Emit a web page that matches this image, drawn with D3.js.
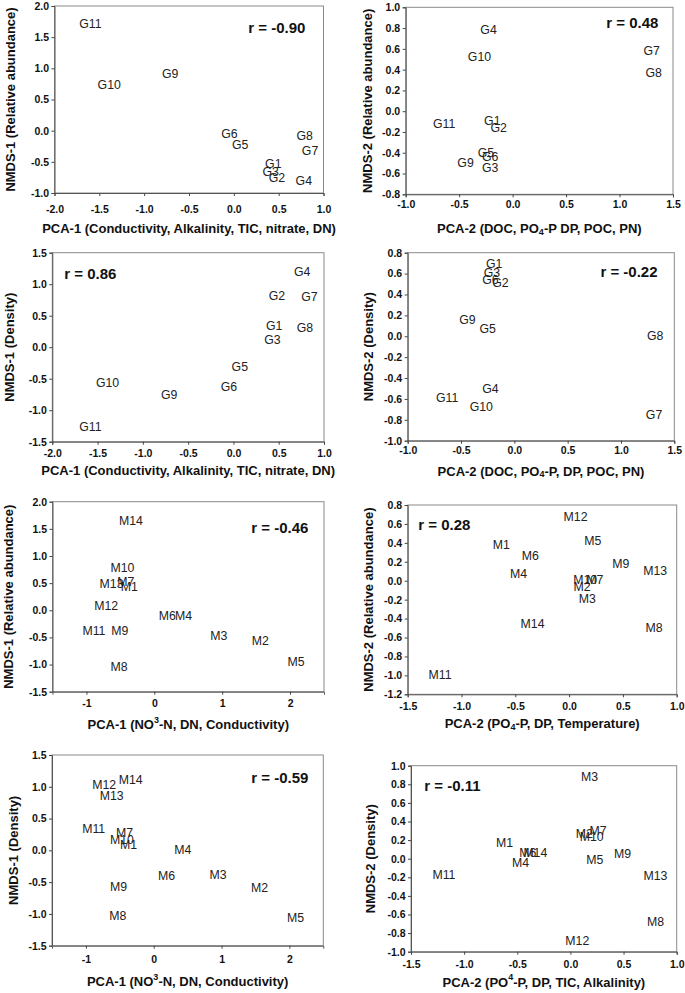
<!DOCTYPE html>
<html><head><meta charset="utf-8">
<script src="https://cdn.jsdelivr.net/npm/d3@7/dist/d3.min.js"></script>
<style>
body{margin:0;background:#fff;}
svg{display:block;font-family:"Liberation Sans",Arial,Helvetica,sans-serif;}
</style>
</head><body>
<svg id="chart" width="685" height="993"></svg>
<script>
// ---------- DATA ----------
const gLabels = ["G1","G2","G3","G4","G5","G6","G7","G8","G9","G10","G11"];
const mLabels = ["M1","M2","M3","M4","M5","M6","M7","M8","M9","M10","M11","M12","M13","M14"];

// Panel A: PCA-1 vs NMDS-1 (Relative abundance), G sites
const aX = [0.44, 0.48, 0.41, 0.78, 0.07, -0.05, 0.85, 0.79, -0.71, -1.39, -1.60];
const aY = [-0.53, -0.76, -0.67, -0.81, -0.23, -0.06, -0.33, -0.08, 0.91, 0.74, 1.71];
// Panel B: PCA-2 vs NMDS-2 (Relative abundance), G sites
const bX = [-0.19, -0.13, -0.21, -0.225, -0.25, -0.21, 1.30, 1.32, -0.44, -0.31, -0.64];
const bY = [-0.09, -0.16, -0.55, 0.78, -0.405, -0.44, 0.58, 0.365, -0.50, 0.52, -0.12];
// Panel C: PCA-1 vs NMDS-1 (Density), G sites
const cX = [0.45, 0.48, 0.43, 0.76, 0.07, -0.05, 0.84, 0.79, -0.71, -1.39, -1.58];
const cY = [0.34, 0.81, 0.11, 1.20, -0.31, -0.63, 0.79, 0.30, -0.76, -0.57, -1.26];
// Panel D: PCA-2 vs NMDS-2 (Density), G sites
const dX = [-0.19, -0.13, -0.21, -0.225, -0.25, -0.225, 1.31, 1.32, -0.44, -0.31, -0.63];
const dY = [0.69, 0.51, 0.61, -0.505, 0.07, 0.54, -0.75, 0.0, 0.155, -0.68, -0.595];
// Panel E: PCA-1 vs NMDS-1 (Relative abundance), M sites
const eX = [-0.37, 1.56, 0.95, 0.43, 2.09, 0.19, -0.42, -0.52, -0.51, -0.47, -0.89, -0.71, -0.63, -0.345];
const eY = [0.43, -0.56, -0.47, -0.10, -0.96, -0.10, 0.53, -1.05, -0.38, 0.785, -0.39, 0.07, 0.48, 1.65];
// Panel F: PCA-2 vs NMDS-2 (Relative abundance), M sites
const fX = [-0.63, 0.12, 0.17, -0.47, 0.22, -0.36, 0.24, 0.79, 0.48, 0.15, -1.20, 0.06, 0.80, -0.34];
const fY = [0.38, -0.07, -0.19, 0.07, 0.42, 0.265, 0.01, -0.50, 0.18, 0.01, -1.00, 0.67, 0.10, -0.46];
// Panel G: PCA-1 vs NMDS-1 (Density), M sites
const gX = [-0.37, 1.56, 0.95, 0.43, 2.09, 0.19, -0.43, -0.53, -0.52, -0.47, -0.885, -0.73, -0.62, -0.34];
const gY = [0.08, -0.60, -0.39, 0.0, -1.06, -0.40, 0.28, -1.03, -0.57, 0.17, 0.34, 1.03, 0.86, 1.10];
// Panel H: PCA-2 vs NMDS-2 (Density), M sites
const hX = [-0.62, 0.13, 0.18, -0.47, 0.23, -0.40, 0.26, 0.80, 0.49, 0.20, -1.19, 0.065, 0.80, -0.33];
const hY = [0.17, 0.27, 0.88, -0.05, -0.01, 0.06, 0.30, -0.68, 0.05, 0.23, -0.18, -0.88, -0.19, 0.06];

const rLabels = ["r = -0.90","r = 0.48","r = 0.86","r = -0.22","r = -0.46","r = 0.28","r = -0.59","r = -0.11"];

// tick values
const ticksPCA1 = [-2.0,-1.5,-1.0,-0.5,0.0,0.5,1.0];
const ticksPCA2 = [-1.0,-0.5,0.0,0.5,1.0,1.5];
const ticksPCA2m = [-1.5,-1.0,-0.5,0.0,0.5,1.0];
const ticksPCA1m = [-1,0,1,2];
const ticksA_y = [-1.0,-0.5,0.0,0.5,1.0,1.5,2.0];
const ticksB_y = [-0.8,-0.6,-0.4,-0.2,0.0,0.2,0.4,0.6,0.8,1.0];
const ticksC_y = [-1.5,-1.0,-0.5,0.0,0.5,1.0,1.5];
const ticksD_y = [-1.0,-0.8,-0.6,-0.4,-0.2,0.0,0.2,0.4,0.6,0.8];
const ticksE_y = [-1.5,-1.0,-0.5,0.0,0.5,1.0,1.5,2.0];
const ticksF_y = [-1.2,-1.0,-0.8,-0.6,-0.4,-0.2,0.0,0.2,0.4,0.6,0.8];
const ticksG_y = [-1.5,-1.0,-0.5,0.0,0.5,1.0,1.5];
const ticksH_y = [-1.0,-0.8,-0.6,-0.4,-0.2,0.0,0.2,0.4,0.6,0.8,1.0];

// axis titles (segments: [text, mode])
const xTitles = [
  [["PCA-1 (Conductivity, Alkalinity, TIC, nitrate, DN)",""]],
  [["PCA-2 (DOC, PO",""],["4","sub"],["-P DP, POC, PN)",""]],
  [["PCA-1 (Conductivity, Alkalinity, TIC, nitrate, DN)",""]],
  [["PCA-2 (DOC, PO",""],["4","sub"],["-P, DP, POC, PN)",""]],
  [["PCA-1 (NO",""],["3","sup"],["-N, DN, Conductivity)",""]],
  [["PCA-2 (PO",""],["4","sub"],["-P, DP, Temperature)",""]],
  [["PCA-1 (NO",""],["3","sup"],["-N, DN, Conductivity)",""]],
  [["PCA-2 (PO",""],["4","sup"],["-P, DP, TIC, Alkalinity)",""]]
];
const yTitles = ["NMDS-1 (Relative abundance)","NMDS-2 (Relative abundance)","NMDS-1 (Density)","NMDS-2 (Density)",
                 "NMDS-1 (Relative abundance)","NMDS-2 (Relative abundance)","NMDS-1 (Density)","NMDS-2 (Density)"];

// ---------- LAYOUT ----------
const f1 = d => d.toFixed(1);
const f0 = d => String(d);
const panels = [
  {lab:gLabels, xs:aX, ys:aY, box:[54.5,323.5,6,193],   xd:[-2,1],    yd:[-1,2],    xt:ticksPCA1, yt:ticksA_y, xf:f1, xOff:16, xTY:228, yTX:10,  rPos:[0.48,1.66]},
  {lab:gLabels, xs:bX, ys:bY, box:[405.7,673,7.3,194.3],xd:[-1,1.5],  yd:[-0.8,1],  xt:ticksPCA2, yt:ticksB_y, xf:f1, xOff:10, xTY:228, yTX:367, rPos:[1.12,0.85]},
  {lab:gLabels, xs:cX, ys:cY, box:[52.3,324,252.7,441.7],xd:[-2,1],   yd:[-1.5,1.5],xt:ticksPCA1, yt:ticksC_y, xf:f1, xOff:11.6, xTY:470, yTX:9, rPos:[-1.58,1.17]},
  {lab:gLabels, xs:dX, ys:dY, box:[407.7,674.3,252.7,440.7],xd:[-1,1.5],yd:[-1,0.8], xt:ticksPCA2, yt:ticksD_y, xf:f1, xOff:10, xTY:470.7, yTX:368, rPos:[1.075,0.62]},
  {lab:mLabels, xs:eX, ys:eY, box:[52.5,324,501.7,691.7],xd:[-1.5,2.5],yd:[-1.5,2], xt:ticksPCA1m, yt:ticksE_y, xf:f0, xOff:11.6, xTY:724, yTX:8, rPos:[1.85,1.53]},
  {lab:mLabels, xs:fX, ys:fY, box:[407.7,676.7,505,694.3],xd:[-1.5,1], yd:[-1.2,0.8], xt:ticksPCA2m, yt:ticksF_y, xf:f1, xOff:12.4, xTY:723, yTX:368, rPos:[-1.16,0.596]},
  {lab:mLabels, xs:gX, ys:gY, box:[52,323.3,755,945.7],  xd:[-1.5,2.5],yd:[-1.5,1.5],xt:ticksPCA1m, yt:ticksG_y, xf:f0, xOff:13.3, xTY:981, yTX:13, rPos:[1.86,1.15]},
  {lab:mLabels, xs:hX, ys:hY, box:[411,676.7,765.7,951.7],xd:[-1.5,1], yd:[-1,1],     xt:ticksPCA2m, yt:ticksH_y, xf:f1, xOff:12.3, xTY:981.7, yTX:370, rPos:[-1.11,0.785]}
];

const svg = d3.select("#chart");
const TICK = 3;

panels.forEach((p, i) => {
  const [L, R, T, B] = p.box;
  const x = d3.scaleLinear().domain(p.xd).range([L, R]);
  const y = d3.scaleLinear().domain(p.yd).range([B, T]);
  const g = svg.append("g");

  // frame
  g.append("rect").attr("x", L).attr("y", T).attr("width", R - L).attr("height", B - T)
    .attr("fill", "none").attr("stroke", "#8a8a8a").attr("stroke-width", 1);

  // y axis
  const ya = g.append("g").attr("transform", `translate(${L},0)`)
    .call(d3.axisLeft(y).tickValues(p.yt).tickFormat(f1).tickSize(TICK).tickPadding(2.5));
  // x axis
  const xa = g.append("g").attr("transform", `translate(0,${B})`)
    .call(d3.axisBottom(x).tickValues(p.xt).tickFormat(p.xf).tickSize(TICK).tickPadding(p.xOff - 3.7 - TICK));
  [ya, xa].forEach(a => {
    a.select(".domain").attr("stroke", "#555");
    a.selectAll(".tick line").attr("stroke", "#444");
    a.selectAll(".tick text").attr("fill", "#111").attr("font-size", 10.5).attr("font-weight", "bold")
      .attr("font-family", '"Liberation Sans",Arial,sans-serif');
  });

  // point labels
  g.append("g").selectAll("text").data(p.lab).join("text")
    .attr("x", (d, j) => x(p.xs[j]))
    .attr("y", (d, j) => y(p.ys[j]))
    .attr("text-anchor", "middle")
    .attr("dominant-baseline", "central")
    .attr("font-size", 12.3)
    .attr("fill", "#222")
    .text(d => d);

  // r annotation
  g.append("text").attr("x", x(p.rPos[0])).attr("y", y(p.rPos[1]))
    .attr("text-anchor", "middle").attr("dominant-baseline", "central")
    .attr("font-size", 15).attr("font-weight", "bold").attr("fill", "#111")
    .text(rLabels[i]);

  // x title with sub/superscripts
  const xt = g.append("text").attr("x", (L + R) / 2).attr("y", p.xTY)
    .attr("text-anchor", "middle").attr("dominant-baseline", "central")
    .attr("font-size", 13).attr("font-weight", "bold").attr("fill", "#111");
  let pending = 0;
  xTitles[i].forEach(([t, mode]) => {
    if (mode === "") {
      const ts = xt.append("tspan").text(t);
      if (pending) { ts.attr("dy", pending); pending = 0; }
    } else {
      const sh = mode === "sub" ? 3.5 : -4.5;
      xt.append("tspan").attr("font-size", 9).attr("dy", sh + pending).text(t);
      pending = -sh;
    }
  });

  // y title
  g.append("text")
    .attr("transform", `translate(${p.yTX},${(T + B) / 2}) rotate(-90)`)
    .attr("text-anchor", "middle").attr("dominant-baseline", "central")
    .attr("font-size", 13).attr("font-weight", "bold").attr("fill", "#111")
    .text(yTitles[i]);
});
</script>
</body></html>
